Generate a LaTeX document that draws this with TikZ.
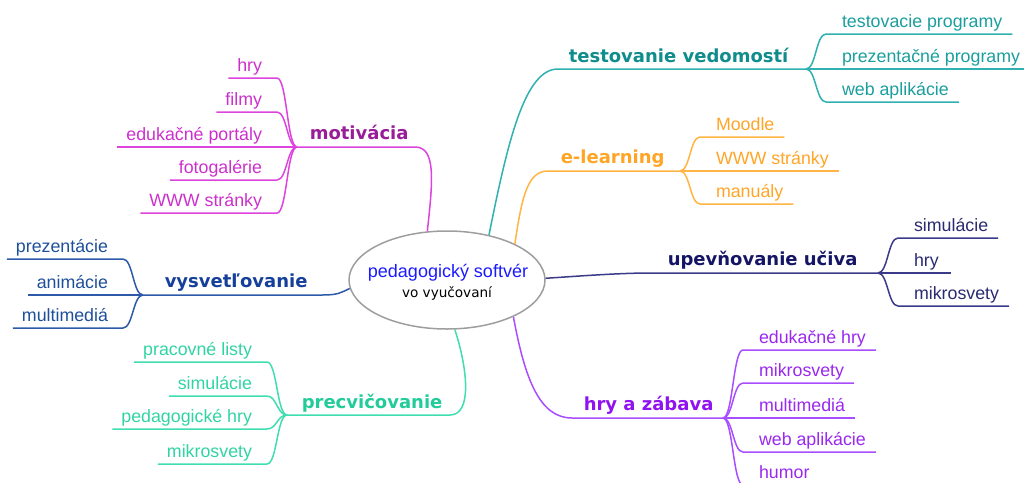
\documentclass[tikz,border=0pt]{standalone}
\usepackage{fontspec}
\setmainfont{Liberation Sans}
\newfontfamily\dejavu{DejaVu Sans}
\usetikzlibrary{shapes.geometric}
\definecolor{tealL}{HTML}{30B0B0}
\definecolor{tealT}{HTML}{0F8C8C}
\definecolor{tealS}{HTML}{1A9E9E}
\definecolor{orgL}{HTML}{FFB444}
\definecolor{orgT}{HTML}{FFA526}
\definecolor{navL}{HTML}{3A3A88}
\definecolor{navT}{HTML}{151566}
\definecolor{navS}{HTML}{2A2A72}
\definecolor{purL}{HTML}{A84DFF}
\definecolor{purT}{HTML}{9012F0}
\definecolor{purS}{HTML}{9A28EE}
\definecolor{magL}{HTML}{DD44DD}
\definecolor{magT}{HTML}{991C99}
\definecolor{magS}{HTML}{CC30CC}
\definecolor{bluL}{HTML}{2C5AA8}
\definecolor{bluT}{HTML}{15409A}
\definecolor{bluS}{HTML}{1E4F9A}
\definecolor{grnL}{HTML}{40DDB0}
\definecolor{grnT}{HTML}{22CC99}
\definecolor{grnS}{HTML}{30D4A2}
\definecolor{ctrblue}{HTML}{1A1AFF}
\begin{document}
\begin{tikzpicture}[x=1pt,y=-1pt,line width=1.5pt,
  leaf/.style={font=\fontsize{17.8}{20}\selectfont, inner xsep=0pt, inner ysep=7pt, text depth=0pt, outer sep=0pt},
  leafR/.style={leaf, anchor=south west},
  leafL/.style={leaf, anchor=south east},
  branch/.style={font=\dejavu\bfseries\fontsize{18}{20}\selectfont, inner sep=0pt, anchor=base west}]
\useasboundingbox (0,0) rectangle (1024,482);
\clip (0,0) rectangle (1024,482);

% centre
\node[ellipse, draw=black!38, fill=white, line width=1.5pt, minimum width=196pt, minimum height=98pt, inner sep=0pt] (c) at (447,280) {};
\node[font=\fontsize{18}{20}\selectfont, text=ctrblue, anchor=base, inner sep=0pt] (ct1) at (448,277) {pedagogický softvér};
\node[font=\dejavu\fontsize{13.6}{16}\selectfont, anchor=base, inner sep=0pt] (ct2) at (447,297) {vo vyučovaní};

% testovanie vedomosti
\coordinate (tf) at (806,69);
\node[branch, text=tealT] (tv) at (568,62) {testovanie vedomostí};
\draw[tealL] (c.47) .. controls (508,140) and (525,69) .. (558,69) -- (tf);
\node[leafR, text=tealS] (t1) at (842,34) {testovacie programy};
\node[leafR, text=tealS] (t2) at (842,69) {prezentačné programy};
\node[leafR, text=tealS] (t3) at (842,102) {web aplikácie};
\draw[tealL] (tf) .. controls +(10,0) and +(-10,0) .. ([xshift=-16pt]t1.south west) -- ([xshift=10pt]t1.south east);
\draw[tealL] (tf) -- ([xshift=10pt]t2.south east);
\draw[tealL] (tf) .. controls +(10,0) and +(-10,0) .. ([xshift=-16pt]t3.south west) -- ([xshift=10pt]t3.south east);

% e-learning
\coordinate (ef) at (680,171);
\node[branch, text=orgT] (el) at (560,163) {e-learning};
\draw[orgL] (c.28) .. controls (522,195) and (528,171) .. (548,171) -- (ef);
\node[leafR, text=orgT] (e1) at (716,137) {Moodle};
\node[leafR, text=orgT] (e2) at (716,171) {WWW stránky};
\node[leafR, text=orgT] (e3) at (716,204) {manuály};
\draw[orgL] (ef) .. controls +(10,0) and +(-10,0) .. ([xshift=-16pt]e1.south west) -- ([xshift=10pt]e1.south east);
\draw[orgL] (ef) -- ([xshift=10pt]e2.south east);
\draw[orgL] (ef) .. controls +(10,0) and +(-10,0) .. ([xshift=-16pt]e3.south west) -- ([xshift=10pt]e3.south east);

% upevnovanie uciva
\coordinate (nf) at (878,273);
\node[branch, text=navT] (uu) at (667,265) {upevňovanie učiva};
\draw[navL] (c.1) .. controls (580,276) and (620,273) .. (650,273) -- (nf);
\node[leafR, text=navS] (n1) at (914,238) {simulácie};
\node[leafR, text=navS] (n2) at (914,273) {hry};
\node[leafR, text=navS] (n3) at (914,306) {mikrosvety};
\draw[navL] (nf) .. controls +(10,0) and +(-10,0) .. ([xshift=-16pt]n1.south west) -- ([xshift=10pt]n1.south east);
\draw[navL] (nf) -- ([xshift=12pt]n2.south east);
\draw[navL] (nf) .. controls +(10,0) and +(-10,0) .. ([xshift=-16pt]n3.south west) -- ([xshift=10pt]n3.south east);

% hry a zabava
\coordinate (pf) at (723,418);
\node[branch, text=purT] (hz) at (583,410) {hry a zábava};
\draw[purL] (c.331) .. controls (525,380) and (540,418) .. (572,418) -- (pf);
\node[leafR, text=purS] (p1) at (759,350) {edukačné hry};
\node[leafR, text=purS] (p2) at (759,383) {mikrosvety};
\node[leafR, text=purS] (p3) at (759,418) {multimediá};
\node[leafR, text=purS] (p4) at (759,452) {web aplikácie};
\node[leafR, text=purS] (p5) at (759,485) {humor};
\draw[purL] (pf) .. controls +(10,0) and +(-10,0) .. ([xshift=-16pt]p1.south west) -- ([xshift=10pt]p1.south east);
\draw[purL] (pf) .. controls +(10,0) and +(-10,0) .. ([xshift=-16pt]p2.south west) -- ([xshift=10pt]p2.south east);
\draw[purL] (pf) -- ([xshift=10pt]p3.south east);
\draw[purL] (pf) .. controls +(10,0) and +(-10,0) .. ([xshift=-16pt]p4.south west) -- ([xshift=10pt]p4.south east);
\draw[purL] (pf) .. controls +(10,0) and +(-10,0) .. ([xshift=-16pt]p5.south west) -- ([xshift=10pt]p5.south east);

% motivacia
\coordinate (mf) at (297,147);
\node[branch, text=magT] (mo) at (309,139) {motivácia};
\draw[magL] (c.112) .. controls (433,180) and (436,147) .. (415,147) -- (mf);
\node[leafL, text=magS] (m1) at (262,78) {hry};
\node[leafL, text=magS] (m2) at (262,112) {filmy};
\node[leafL, text=magS] (m3) at (262,147) {edukačné portály};
\node[leafL, text=magS] (m4) at (262,180) {fotogalérie};
\node[leafL, text=magS] (m5) at (262,213) {WWW stránky};
\draw[magL] (mf) .. controls +(-10,0) and +(10,0) .. ([xshift=15pt]m1.south east) -- ([xshift=-9pt]m1.south west);
\draw[magL] (mf) .. controls +(-10,0) and +(10,0) .. ([xshift=15pt]m2.south east) -- ([xshift=-9pt]m2.south west);
\draw[magL] (mf) -- ([xshift=-9pt]m3.south west);
\draw[magL] (mf) .. controls +(-10,0) and +(10,0) .. ([xshift=15pt]m4.south east) -- ([xshift=-9pt]m4.south west);
\draw[magL] (mf) .. controls +(-10,0) and +(10,0) .. ([xshift=15pt]m5.south east) -- ([xshift=-9pt]m5.south west);

% vysvetlovanie
\coordinate (bf) at (143,295);
\node[branch, text=bluT] (vy) at (164,287) {vysvetľovanie};
\draw[bluL] (c.185) .. controls (340,293) and (338,295) .. (322,295) -- (bf);
\node[leafL, text=bluS] (b1) at (108,259) {prezentácie};
\node[leafL, text=bluS] (b2) at (108,295) {animácie};
\node[leafL, text=bluS] (b3) at (108,328) {multimediá};
\draw[bluL] (bf) .. controls +(-10,0) and +(10,0) .. ([xshift=15pt]b1.south east) -- ([xshift=-9pt]b1.south west);
\draw[bluL] (bf) -- ([xshift=-9pt]b2.south west);
\draw[bluL] (bf) .. controls +(-10,0) and +(10,0) .. ([xshift=15pt]b3.south east) -- ([xshift=-9pt]b3.south west);

% precvicovanie
\coordinate (gf) at (287,415);
\node[branch, text=grnT] (pr) at (301,408) {precvičovanie};
\draw[grnL] (c.279) .. controls (468,370) and (472,415) .. (450,415) -- (gf);
\node[leafL, text=grnS] (g1) at (252,362) {pracovné listy};
\node[leafL, text=grnS] (g2) at (252,396) {simulácie};
\node[leafL, text=grnS] (g3) at (252,429) {pedagogické hry};
\node[leafL, text=grnS] (g4) at (252,464) {mikrosvety};
\draw[grnL] (gf) .. controls +(-10,0) and +(10,0) .. ([xshift=15pt]g1.south east) -- ([xshift=-9pt]g1.south west);
\draw[grnL] (gf) .. controls +(-10,0) and +(10,0) .. ([xshift=15pt]g2.south east) -- ([xshift=-9pt]g2.south west);
\draw[grnL] (gf) .. controls +(-10,0) and +(10,0) .. ([xshift=15pt]g3.south east) -- ([xshift=-9pt]g3.south west);
\draw[grnL] (gf) .. controls +(-10,0) and +(10,0) .. ([xshift=15pt]g4.south east) -- ([xshift=-9pt]g4.south west);
\end{tikzpicture}
\end{document}
